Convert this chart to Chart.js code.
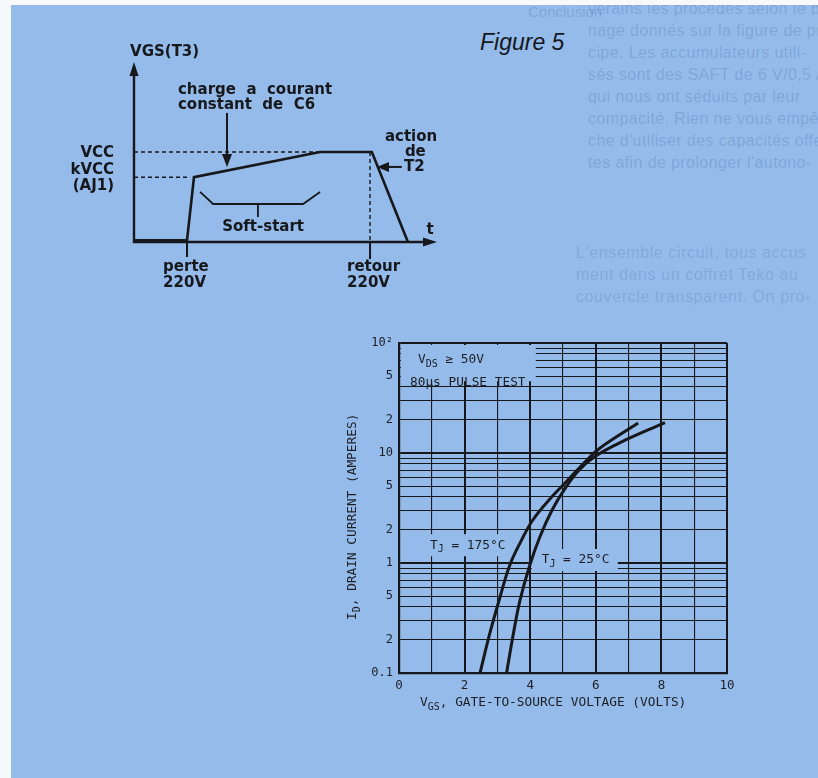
<!DOCTYPE html>
<html>
<head>
<meta charset="utf-8">
<script src="https://cdn.jsdelivr.net/npm/chart.js@4.4.1/dist/chart.umd.min.js"></script>
<style>
  html, body { margin: 0; padding: 0; background: #f7f9fc; }
  body { width: 818px; height: 778px; position: relative; overflow: hidden; }
  #page { position: absolute; left: 11px; top: 5px; right: 0; bottom: 0; background: #94bbea; overflow: hidden; }
  #ghost { position: absolute; left: 577px; top: -7px; font: 16px "Liberation Sans", Arial, sans-serif; line-height: 22px; color: rgba(45, 75, 135, 0.2); white-space: nowrap; letter-spacing: 0.4px; }
  #ghost2 { position: absolute; left: 565px; top: 237px; font: 16px "Liberation Sans", Arial, sans-serif; line-height: 22px; color: rgba(45, 75, 135, 0.18); white-space: nowrap; letter-spacing: 0.6px; }
  #ghost3 { position: absolute; left: 517px; top: -2px; font: 15px "Liberation Sans", Arial, sans-serif; color: rgba(45, 75, 135, 0.2); white-space: nowrap; }
  #fig { position: absolute; left: 480px; top: 31px; font: italic 23px "Liberation Sans", Arial, sans-serif; line-height: 23px; color: #15171c; }
  #schema { position: absolute; left: 60px; top: 25px; }
  #curves { position: absolute; left: 330px; top: 325px; }
</style>
</head>
<body>
<div id="page">
  <div id="ghost3">Conclusion</div>
  <div id="ghost">
    <div>verains les procédés selon le bro-</div>
    <div>nage donnés sur la figure de prin-</div>
    <div>cipe. Les accumulateurs utili-</div>
    <div>sés sont des SAFT de 6 V/0,5 A</div>
    <div>qui nous ont séduits par leur</div>
    <div>compacité. Rien ne vous empê-</div>
    <div>che d'utiliser des capacités offer-</div>
    <div>tes afin de prolonger l'autono-</div>
  </div>
  <div id="ghost2">
    <div>L'ensemble circuit, tous accus</div>
    <div>ment dans un coffret Teko au</div>
    <div>couvercle transparent. On pro-</div>
  </div>
</div>
<div id="fig">Figure 5</div>
<canvas id="schema" width="400" height="275"></canvas>
<canvas id="curves" width="410" height="395"></canvas>
<script>
// --- schema VGS(T3) : temps / tension (unites arbitraires 0..10)
const schemT = [0, 1.75, 1.98, 6.14, 7.85, 9.04];
const schemV = [0.1, 0.1, 3.6, 5, 5, 0];
const vccLevel = 5;
const kvccLevel = 3.6;
const perteT = 1.75;
const retourT = 7.79;
const rampEndT = 6.14;
const softT = [2.18, 2.61, 5.58, 6.14];
const softV = [2.78, 2.11, 2.11, 2.78];

// --- ID = f(VGS)
const vgs175 = [2.47, 2.77, 3.08, 3.38, 3.72, 4.08, 4.6, 5.12, 5.73, 6.13, 7.29];
const id175 = [0.1, 0.23, 0.49, 0.96, 1.58, 2.46, 3.82, 5.56, 8.63, 11.1, 18.7];
const vgs25 = [3.28, 3.49, 3.69, 3.99, 4.3, 4.66, 5.03, 5.49, 5.95, 6.71, 8.11];
const id25 = [0.1, 0.23, 0.46, 0.96, 1.74, 3.0, 4.6, 7.0, 9.2, 12.3, 18.9];

const xTickValues = [0, 2, 4, 6, 8, 10];
const xTickLabels = ['0', '2', '4', '6', '8', '10'];
const yTickValues = [0.1, 0.2, 0.5, 1, 2, 5, 10, 20, 50, 100];
const yTickLabels = ['0.1', '2', '5', '1', '2', '5', '10', '2', '5', '10\u00b2'];
const yGridValues = [0.1, 0.2, 0.3, 0.4, 0.5, 0.6, 0.7, 0.8, 0.9,
                     1, 2, 3, 4, 5, 6, 7, 8, 9,
                     10, 20, 30, 40, 50, 60, 70, 80, 90, 100];

const ink = '#17181c';
const paper = '#94bbea';

function pts(xs, ys) {
    return xs.map((v, i) => ({ x: v, y: ys[i] }));
}

function arrowHead(ctx, x, y, dir, len, half) {
    ctx.beginPath();
    if (dir === 'up') { ctx.moveTo(x, y); ctx.lineTo(x - half, y + len); ctx.lineTo(x + half, y + len); }
    if (dir === 'down') { ctx.moveTo(x, y); ctx.lineTo(x - half, y - len); ctx.lineTo(x + half, y - len); }
    if (dir === 'right') { ctx.moveTo(x, y); ctx.lineTo(x - len, y - half); ctx.lineTo(x - len, y + half); }
    if (dir === 'left') { ctx.moveTo(x, y); ctx.lineTo(x + len, y - half); ctx.lineTo(x + len, y + half); }
    ctx.closePath();
    ctx.fill();
}

// axes, fleches et textes du schema
const schemaDecor = {
    id: 'schemaDecor',
    beforeDatasetsDraw(chart) {
        const { ctx, scales: { x, y } } = chart;
        const x0 = x.getPixelForValue(0), y0 = y.getPixelForValue(0);
        const xEnd = x.getPixelForValue(10), yTop = y.getPixelForValue(10);
        ctx.save();
        ctx.strokeStyle = ink;
        ctx.fillStyle = ink;
        ctx.lineWidth = 2.4;
        ctx.beginPath();
        ctx.moveTo(x0, y0 + 1); ctx.lineTo(x0, yTop + 10);
        ctx.moveTo(x0 - 1, y0); ctx.lineTo(xEnd - 10, y0);
        ctx.stroke();
        arrowHead(ctx, x0, yTop, 'up', 14, 4.5);
        arrowHead(ctx, xEnd, y0, 'right', 14, 4.5);
        // reperes perte / retour
        ctx.lineWidth = 2;
        const xp = x.getPixelForValue(perteT), xr = x.getPixelForValue(retourT);
        ctx.beginPath();
        ctx.moveTo(xp, y0); ctx.lineTo(xp, y0 + 15);
        ctx.moveTo(xr, y0); ctx.lineTo(xr, y0 + 17);
        ctx.stroke();
        ctx.restore();
    },
    afterDatasetsDraw(chart) {
        const { ctx, scales: { x, y } } = chart;
        const px = (t) => x.getPixelForValue(t);
        const py = (v) => y.getPixelForValue(v);
        ctx.save();
        ctx.strokeStyle = ink;
        ctx.fillStyle = ink;
        // fleche "charge a courant constant"
        ctx.lineWidth = 2;
        ctx.beginPath();
        ctx.moveTo(px(3.07), py(7.17)); ctx.lineTo(px(3.07), py(4.17) - 10);
        ctx.stroke();
        arrowHead(ctx, px(3.07), py(4.17), 'down', 13, 5);
        // fleche "action de T2"
        ctx.beginPath();
        ctx.moveTo(px(8.84), py(4.17)); ctx.lineTo(px(8.02) + 10, py(4.17));
        ctx.stroke();
        arrowHead(ctx, px(8.02), py(4.17), 'left', 12, 5);

        ctx.font = 'bold 15px "DejaVu Sans", sans-serif';
        ctx.textBaseline = 'middle';
        ctx.textAlign = 'left';
        ctx.fillText('VGS(T3)', px(-0.13), py(10.55));
        ctx.fillText('charge  a  courant', px(1.45), py(8.44));
        ctx.fillText('constant  de  C6', px(1.45), py(7.61));
        ctx.fillText('action', px(8.28), py(5.83));
        ctx.fillText('de', px(8.94), py(5.0));
        ctx.fillText('T2', px(8.91), py(4.17));
        ctx.fillText('perte', px(0.96), py(-1.39));
        ctx.fillText('220V', px(0.96), py(-2.28));
        ctx.fillText('retour', px(7.03), py(-1.39));
        ctx.fillText('220V', px(7.03), py(-2.28));
        ctx.textAlign = 'center';
        ctx.fillText('Soft-start', px(4.26), py(0.85));
        ctx.fillText('t', px(9.77), py(0.67));
        ctx.textAlign = 'right';
        ctx.fillText('VCC', px(-0.66), py(4.94));
        ctx.fillText('kVCC', px(-0.66), py(4.0));
        ctx.fillText('(AJ1)', px(-0.66), py(3.11));
        ctx.restore();
    }
};

const dashed = { borderColor: ink, borderWidth: 1.4, borderDash: [4, 3], pointRadius: 0, showLine: true, clip: false };

new Chart(document.getElementById('schema'), {
    type: 'scatter',
    data: {
        datasets: [
            { data: pts(schemT, schemV), borderColor: ink, borderWidth: 2.6, pointRadius: 0, showLine: true, clip: false },
            { ...dashed, data: [{ x: 0, y: vccLevel }, { x: rampEndT, y: vccLevel }] },
            { ...dashed, data: [{ x: 0, y: kvccLevel }, { x: 1.85, y: kvccLevel }] },
            { ...dashed, data: [{ x: retourT, y: vccLevel }, { x: retourT, y: 0 }] },
            { data: pts(softT, softV), borderColor: ink, borderWidth: 1.8, pointRadius: 0, showLine: true, clip: false },
            { data: [{ x: 4.09, y: 2.11 }, { x: 4.09, y: 1.39 }], borderColor: ink, borderWidth: 1.8, pointRadius: 0, showLine: true, clip: false }
        ]
    },
    options: {
        responsive: false,
        animation: false,
        layout: { padding: { left: 74, right: 23, top: 37, bottom: 58 } },
        plugins: { legend: { display: false }, tooltip: { enabled: false } },
        scales: {
            x: { type: 'linear', min: 0, max: 10, display: false },
            y: { type: 'linear', min: 0, max: 10, display: false }
        }
    },
    plugins: [schemaDecor]
});

// textes du graphique de la fiche technique
const sheetText = {
    id: 'sheetText',
    beforeDatasetsDraw(chart) {
        const { ctx, chartArea: a, scales: { x, y } } = chart;
        ctx.save();
        ctx.fillStyle = paper;
        ctx.fillRect(a.left + 2, a.top + 2, x.getPixelForValue(4.2) - a.left - 3, y.getPixelForValue(44) - a.top - 3);
        ctx.fillRect(a.left + 24, y.getPixelForValue(1.45) - 11, 89, 22);
        ctx.fillRect(x.getPixelForValue(4.05), y.getPixelForValue(1.0) - 14, 86, 22);
        ctx.restore();
    },
    afterDraw(chart) {
        const { ctx, chartArea: a, scales: { x, y } } = chart;
        const big = '12.8px "DejaVu Sans Mono", monospace';
        const small = '10px "DejaVu Sans Mono", monospace';
        function sub(parts, px, py) {
            let cx = px;
            parts.forEach(([txt, isSub]) => {
                ctx.font = isSub ? small : big;
                ctx.fillText(txt, cx, isSub ? py + 4 : py);
                cx += ctx.measureText(txt).width;
            });
        }
        ctx.save();
        ctx.fillStyle = '#1d1f24';
        ctx.textBaseline = 'middle';
        ctx.textAlign = 'left';
        sub([['V', false], ['DS', true], [' \u2265 50V', false]], a.left + 19, a.top + 17);
        sub([['80\u00b5s PULSE TEST', false]], a.left + 11, a.top + 40);
        sub([['T', false], ['J', true], [' = 175\u00b0C', false]], a.left + 31, y.getPixelForValue(1.45));
        sub([['T', false], ['J', true], [' = 25\u00b0C', false]], x.getPixelForValue(4.35), y.getPixelForValue(1.0) - 3);
        // titres des axes
        sub([['V', false], ['GS', true], [', GATE-TO-SOURCE VOLTAGE (VOLTS)', false]], a.left + 21, a.bottom + 30);
        ctx.translate(a.left - 46, a.bottom - 53);
        ctx.rotate(-Math.PI / 2);
        sub([['I', false], ['D', true], [', DRAIN CURRENT (AMPERES)', false]], 0, 0);
        ctx.restore();
    }
};

const major = (v) => [1, 10, 100, 0.1].includes(v);
const majorX = (v) => v % 2 === 0;

new Chart(document.getElementById('curves'), {
    type: 'scatter',
    data: {
        datasets: [
            { label: 'TJ = 175\u00b0C', data: pts(vgs175, id175), borderColor: ink, borderWidth: 3, pointRadius: 0, showLine: true, tension: 0.4 },
            { label: 'TJ = 25\u00b0C', data: pts(vgs25, id25), borderColor: ink, borderWidth: 3, pointRadius: 0, showLine: true, tension: 0.4 }
        ]
    },
    options: {
        responsive: false,
        animation: false,
        layout: { padding: { left: 0, right: 13, top: 18, bottom: 0 } },
        plugins: { legend: { display: false }, tooltip: { enabled: false } },
        scales: {
            x: {
                type: 'linear', min: 0, max: 10,
                afterFit(scale) { scale.height = 47; },
                ticks: {
                    stepSize: 1, padding: 5, color: '#1d1f24', autoSkip: false,
                    font: { family: '"DejaVu Sans Mono", monospace', size: 12.5 },
                    callback(v) { const i = xTickValues.indexOf(v); return i >= 0 ? xTickLabels[i] : ''; }
                },
                grid: {
                    drawTicks: false,
                    color: ink,
                    lineWidth: (c) => (c.tick && majorX(c.tick.value)) ? 2 : 1.1
                },
                border: { display: true, color: ink, width: 2.2 }
            },
            y: {
                type: 'logarithmic', min: 0.1, max: 100,
                afterFit(scale) { scale.width = 69; },
                afterBuildTicks(scale) { scale.ticks = yGridValues.map((v) => ({ value: v })); },
                ticks: {
                    padding: 6, color: '#1d1f24', autoSkip: false,
                    font: { family: '"DejaVu Sans Mono", monospace', size: 12 },
                    callback(v) { const i = yTickValues.indexOf(v); return i >= 0 ? yTickLabels[i] : ''; }
                },
                grid: {
                    drawTicks: false,
                    color: ink,
                    lineWidth: (c) => (c.tick && major(c.tick.value)) ? 2 : 1
                },
                border: { display: true, color: ink, width: 2.2 }
            }
        }
    },
    plugins: [sheetText]
});
</script>
</body>
</html>
